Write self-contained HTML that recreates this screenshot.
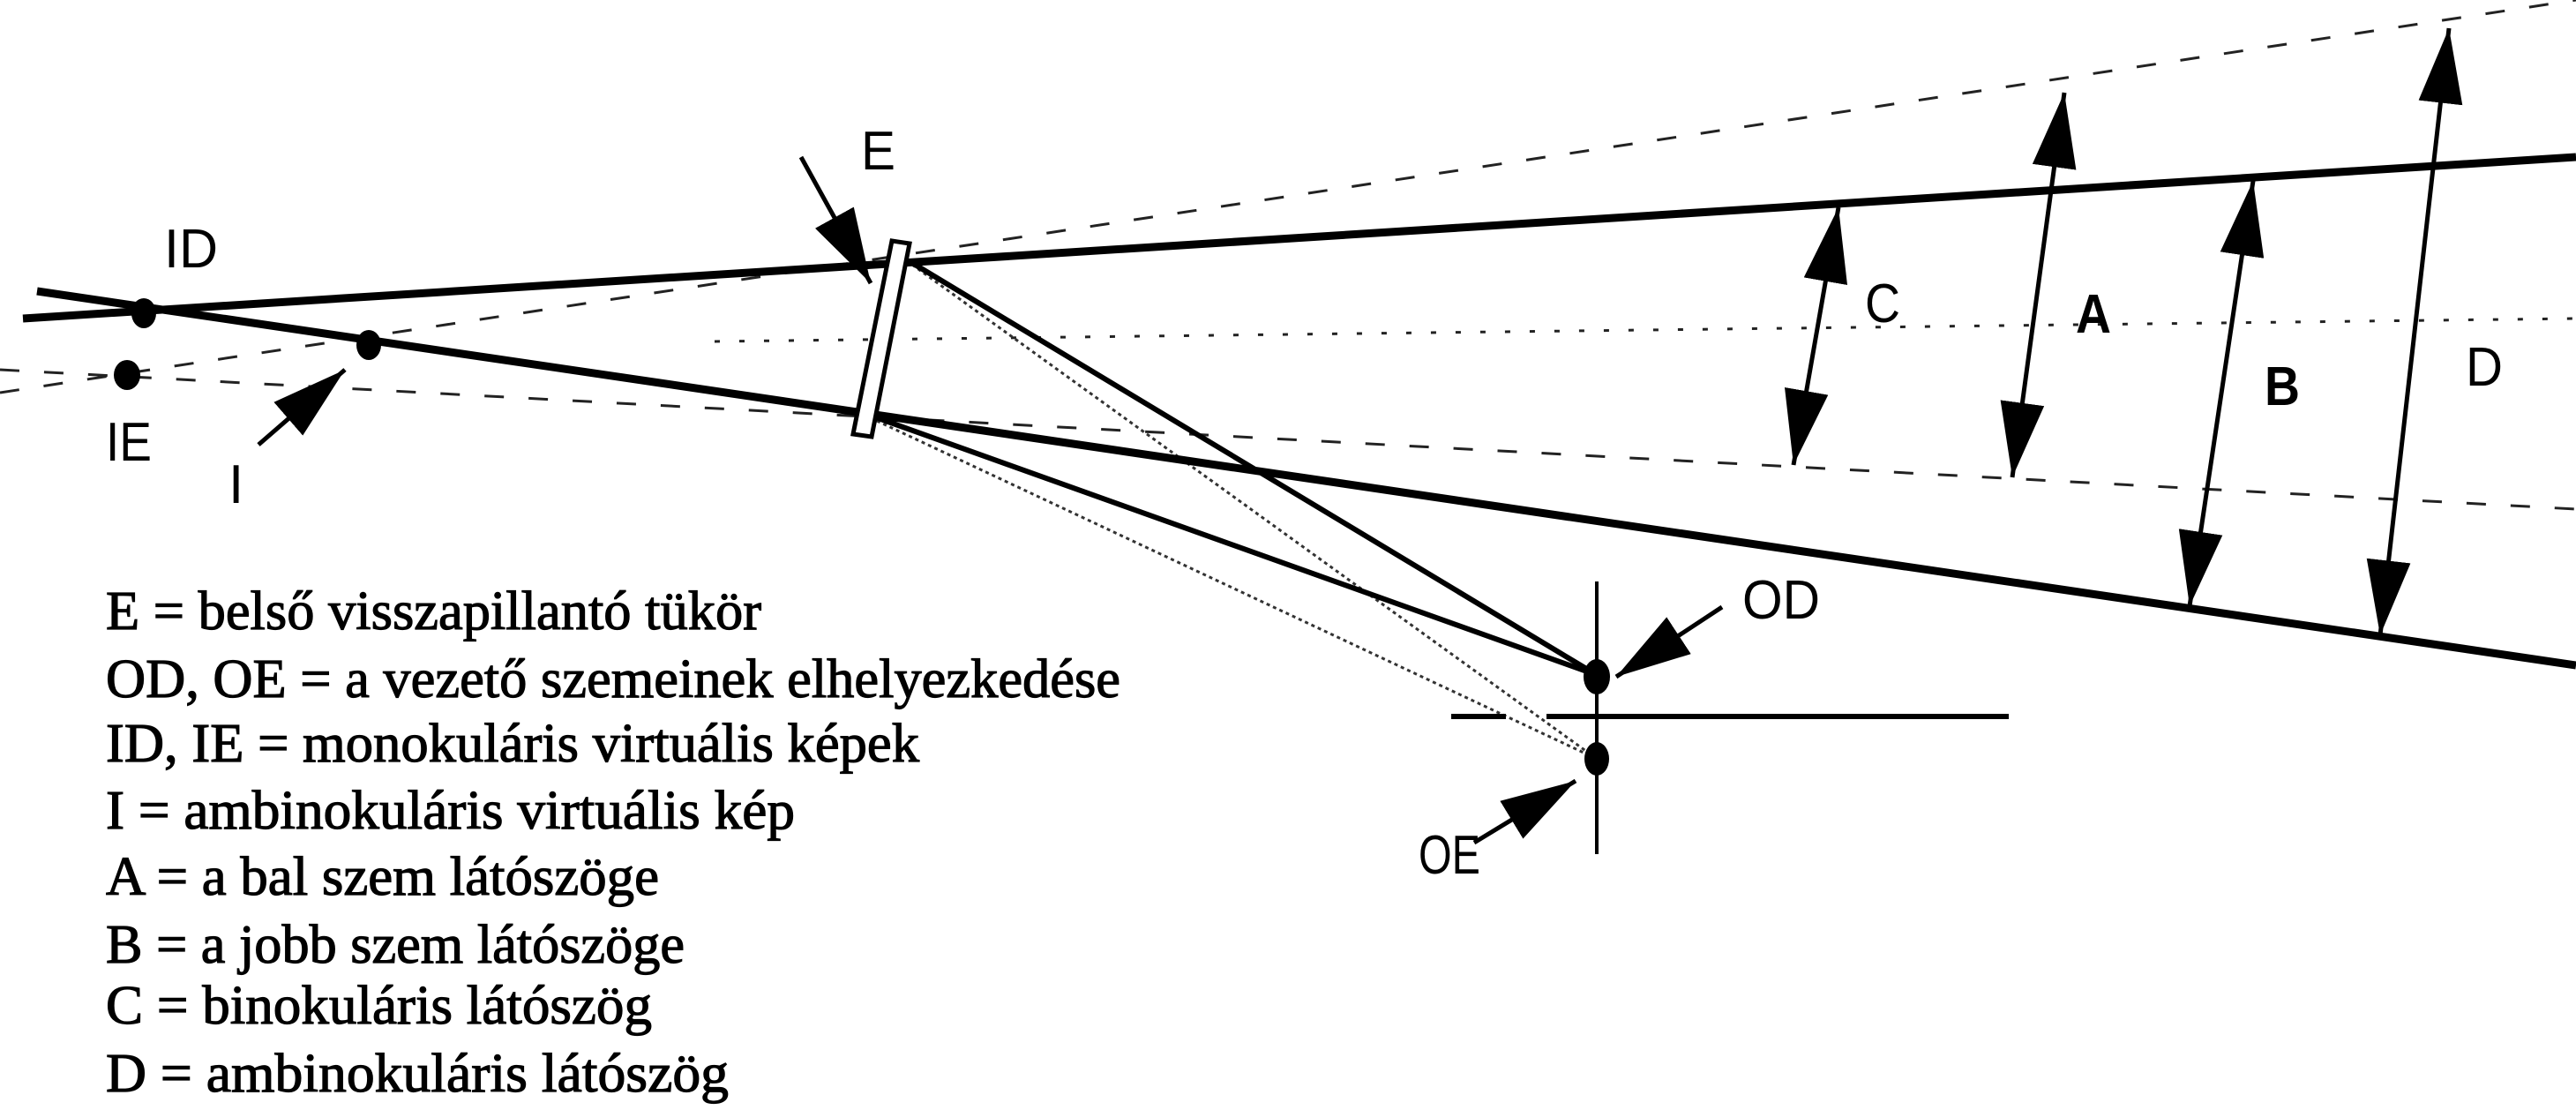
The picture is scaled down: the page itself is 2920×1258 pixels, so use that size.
<!DOCTYPE html>
<html><head><meta charset="utf-8"><style>html,body{margin:0;padding:0;background:#fff}svg{display:block}</style></head>
<body>
<svg width="2920" height="1258" viewBox="0 0 2920 1258" xmlns="http://www.w3.org/2000/svg">
<defs>
<marker id="ah" viewBox="0 0 85 50" refX="85" refY="25" markerWidth="85" markerHeight="50" markerUnits="userSpaceOnUse" orient="auto-start-reverse">
<path d="M0,0 L85,25 L0,50 z" fill="#000"/>
</marker>
</defs>
<rect width="2920" height="1258" fill="#fff"/>
<g stroke="#222" stroke-width="3" fill="none" stroke-dasharray="22,28">
<line x1="0" y1="445" x2="2920" y2="0"/>
<line x1="0" y1="419" x2="2920" y2="577"/>
<line x1="810" y1="387" x2="2920" y2="361" stroke-dasharray="6,22"/>
</g>
<g stroke="#333" stroke-width="3" fill="none" stroke-dasharray="4,4">
<line x1="1034" y1="300" x2="1810" y2="860"/>
<line x1="994" y1="477" x2="1810" y2="860"/>
</g>
<g stroke="#000" stroke-width="9" fill="none">
<line x1="26" y1="361" x2="2920" y2="178"/>
<line x1="42" y1="330" x2="2920" y2="754"/>
<line x1="1034" y1="298" x2="1810" y2="765" stroke-width="6"/>
<line x1="990" y1="472" x2="1810" y2="765" stroke-width="6"/>
<line x1="1645" y1="812" x2="1707" y2="812" stroke-width="6"/>
<line x1="1753" y1="812" x2="2277" y2="812" stroke-width="6"/>
<line x1="1810" y1="659" x2="1810" y2="968" stroke-width="4"/>
</g>
<polygon points="1011,273 1031,276 988,495 967,492" fill="#fff" stroke="#000" stroke-width="5"/>
<g fill="#000">
<ellipse cx="163" cy="355" rx="14" ry="17"/>
<ellipse cx="144" cy="425" rx="15" ry="17"/>
<ellipse cx="418" cy="391" rx="14" ry="17"/>
<ellipse cx="1810" cy="767" rx="15" ry="20"/>
<ellipse cx="1810" cy="860" rx="14" ry="19"/>
</g>
<g stroke="#000" stroke-width="5" fill="none" marker-end="url(#ah)">
<line x1="908" y1="178" x2="987" y2="321"/>
<line x1="293" y1="504" x2="391" y2="419"/>
<line x1="1952" y1="688" x2="1832" y2="767"/>
<line x1="1671" y1="955" x2="1786" y2="885"/>
</g>
<g stroke="#000" stroke-width="5" fill="none" marker-start="url(#ah)" marker-end="url(#ah)">
<line x1="2084" y1="235" x2="2033" y2="527"/>
<line x1="2340" y1="105" x2="2281" y2="541"/>
<line x1="2554" y1="205" x2="2482" y2="687"/>
<line x1="2776" y1="32" x2="2698" y2="720"/>
</g>
<g font-family="Liberation Sans, sans-serif" font-size="62" fill="#000">
<text x="186" y="303" textLength="61" lengthAdjust="spacingAndGlyphs">ID</text>
<text x="120" y="522" textLength="52" lengthAdjust="spacingAndGlyphs">IE</text>
<text x="259" y="570">I</text>
<text x="976" y="192" textLength="39" lengthAdjust="spacingAndGlyphs">E</text>
<text x="1975" y="701" textLength="88" lengthAdjust="spacingAndGlyphs">OD</text>
<text x="1608" y="990" textLength="70" lengthAdjust="spacingAndGlyphs">OE</text>
<text x="2114" y="365" textLength="40" lengthAdjust="spacingAndGlyphs">C</text>
<text x="2353" y="377" font-weight="bold" textLength="40" lengthAdjust="spacingAndGlyphs">A</text>
<text x="2567" y="459" font-weight="bold" textLength="40" lengthAdjust="spacingAndGlyphs">B</text>
<text x="2795" y="437" textLength="42" lengthAdjust="spacingAndGlyphs">D</text>
</g>
<g font-family="Liberation Serif, serif" font-size="62" fill="#000" stroke="#000" stroke-width="1.2">
<text x="120" y="713" textLength="743" lengthAdjust="spacingAndGlyphs">E = belső visszapillantó tükör</text>
<text x="120" y="790" textLength="1150" lengthAdjust="spacingAndGlyphs">OD, OE = a vezető szemeinek elhelyezkedése</text>
<text x="120" y="863" textLength="922" lengthAdjust="spacingAndGlyphs">ID, IE = monokuláris virtuális képek</text>
<text x="120" y="939" textLength="781" lengthAdjust="spacingAndGlyphs">I = ambinokuláris virtuális kép</text>
<text x="120" y="1014" textLength="627" lengthAdjust="spacingAndGlyphs">A = a bal szem látószöge</text>
<text x="120" y="1091" textLength="656" lengthAdjust="spacingAndGlyphs">B = a jobb szem látószöge</text>
<text x="120" y="1160" textLength="619" lengthAdjust="spacingAndGlyphs">C = binokuláris látószög</text>
<text x="120" y="1237" textLength="706" lengthAdjust="spacingAndGlyphs">D = ambinokuláris látószög</text>
</g>
</svg>
</body></html>
